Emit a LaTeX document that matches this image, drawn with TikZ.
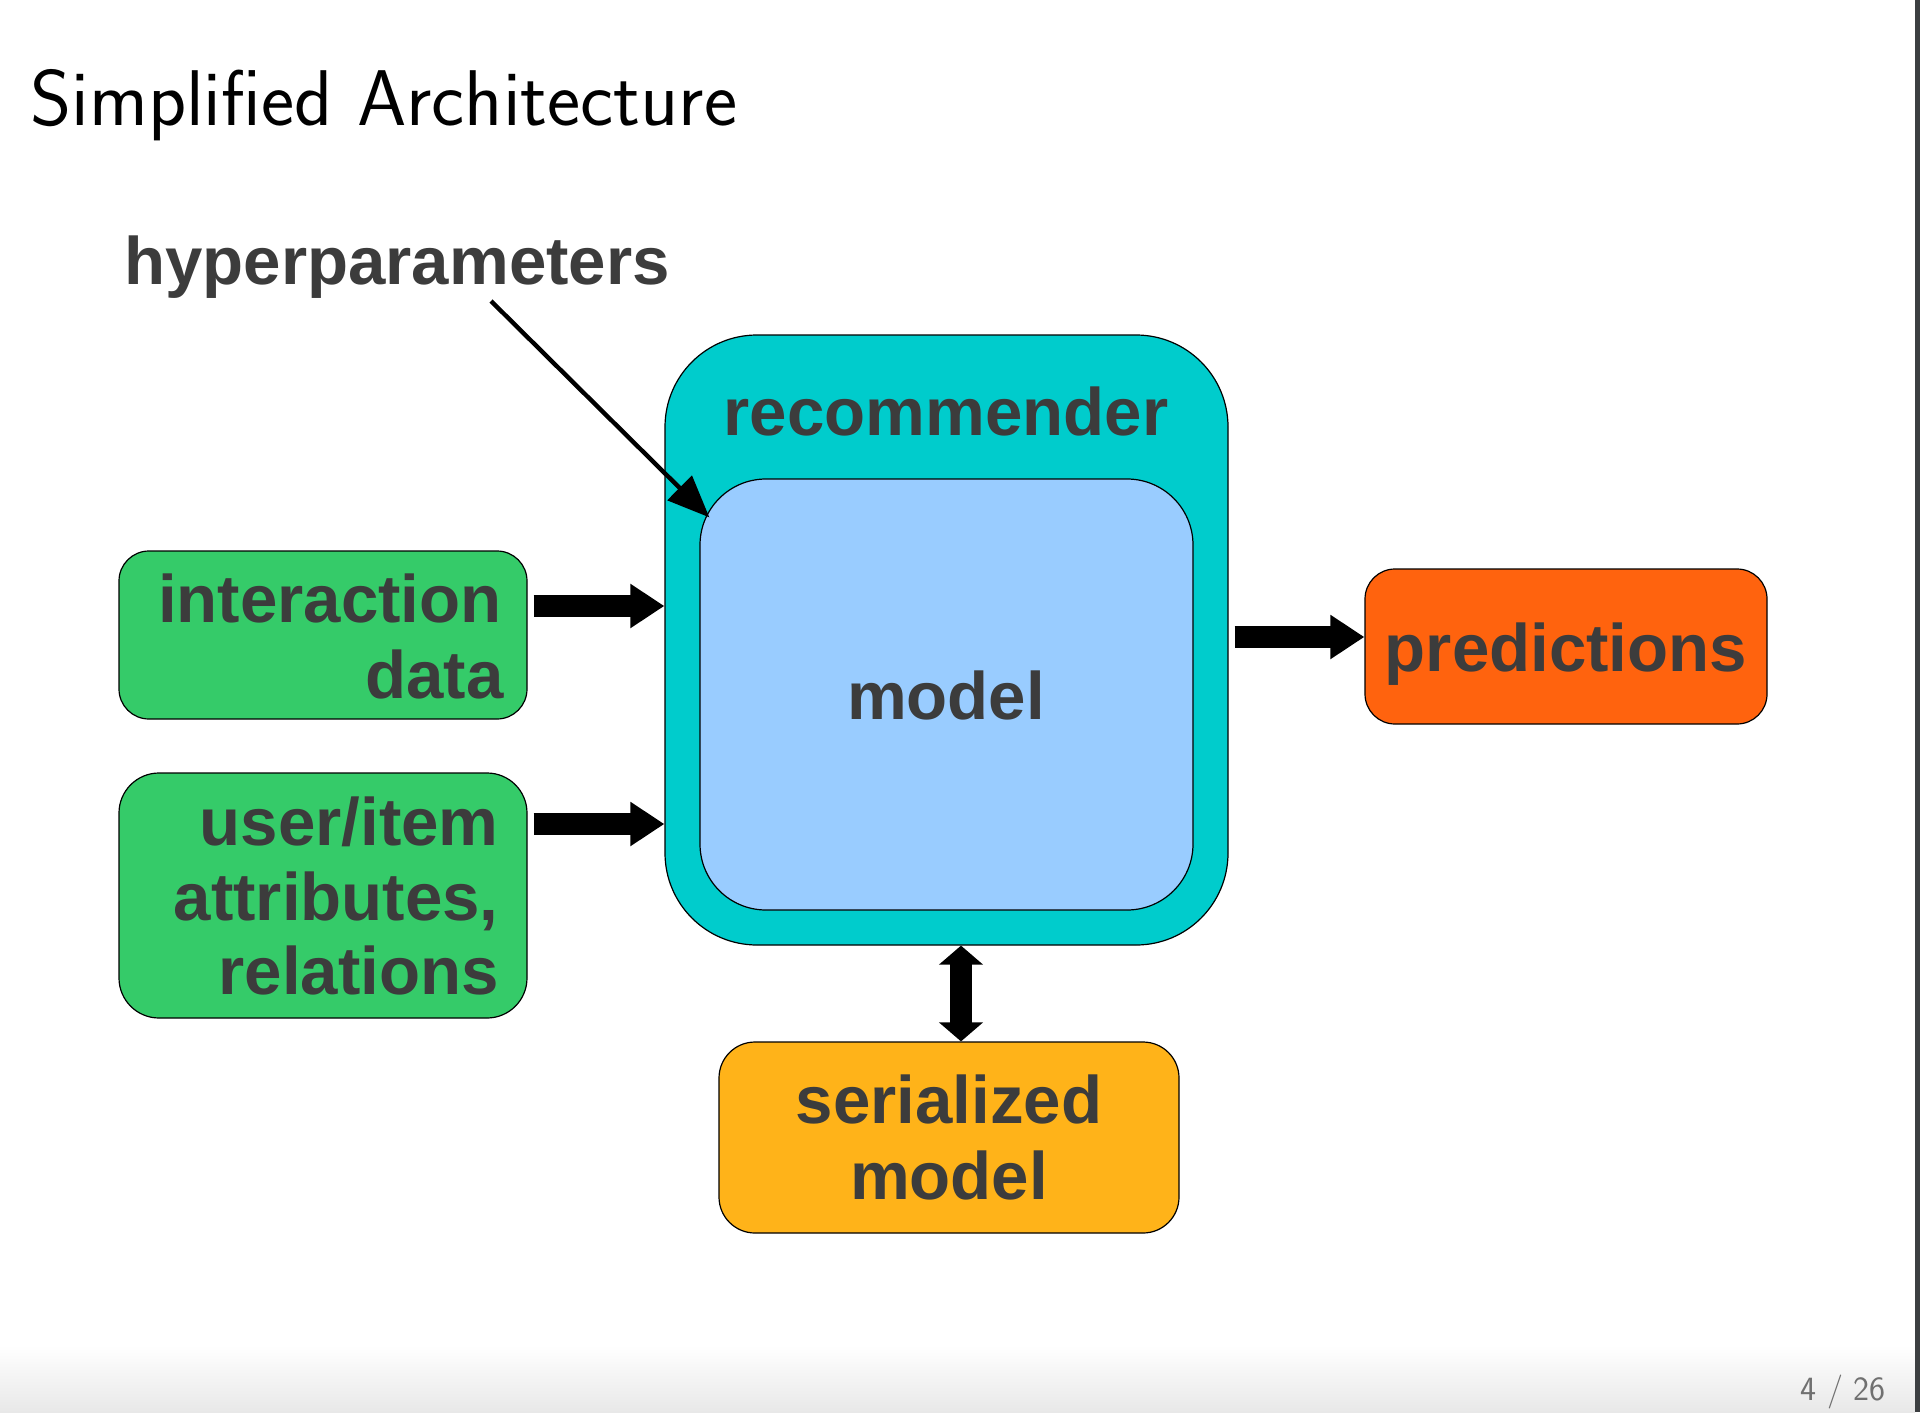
\documentclass[tikz,border=0pt]{standalone}
\usepackage{fontspec}
\setmainfont{Liberation Sans}
\usetikzlibrary{arrows.meta,calc}
\definecolor{txtc}{HTML}{3C3C3C}
\definecolor{cgreen}{HTML}{35CB69}
\definecolor{cteal}{HTML}{00CCCC}
\definecolor{cblue}{HTML}{99CCFF}
\definecolor{corange}{HTML}{FF630E}
\definecolor{cyellow}{HTML}{FFB319}
\definecolor{stripc}{HTML}{3C3F41}
\definecolor{pagec}{HTML}{707070}
\begin{document}
\begin{tikzpicture}[x=0.5pt,y=-0.5pt,
  box/.style={draw=black, line width=0.6pt, rectangle, inner sep=0pt},
  lbl/.style={inner sep=0pt, text=txtc, font=\fontsize{33.6pt}{40pt}\selectfont\bfseries},
  blk/.style={line width=11pt, line cap=butt, -{Triangle[length=17pt,width=21pt]}},
  dbl/.style={line width=11pt, line cap=butt, {Triangle[length=9.5pt,width=21.5pt]}-{Triangle[length=9.5pt,width=21.5pt]}},
  thin/.style={line width=2.2pt, -{Triangle[length=21pt,width=17pt]}}]
% page
\fill[white] (0,0) rectangle (1920,1412);
\shade[top color=white, bottom color=black!9] (0,1345) rectangle (1915,1412);
\fill[stripc] (1915,0) rectangle (1920,1412);
% title
\node[anchor=base west, inner sep=0pt, font=\sffamily\fontsize{39.5pt}{45pt}\selectfont] (title) at (30,126) {Simplified Architecture};
% page number
\node[anchor=base east, inner sep=0pt, text=pagec, font=\sffamily\fontsize{17pt}{20pt}\selectfont] (page) at (1886,1400) {4 / 26};
% boxes
\node[box, fill=cteal, rounded corners=46pt, minimum width=281.5pt, minimum height=305pt] (rec) at (946.5,640) {};
\node[box, fill=cblue, rounded corners=33pt, minimum width=246.5pt, minimum height=215.5pt] (model) at (946.5,694.5) {};
\node[box, fill=cgreen, rounded corners=15pt, minimum width=204pt, minimum height=84pt] (inter) at (323,635) {};
\node[box, fill=cgreen, rounded corners=20pt, minimum width=204pt, minimum height=122.5pt] (attr) at (323,895.5) {};
\node[box, fill=corange, rounded corners=15pt, minimum width=201pt, minimum height=77.5pt] (pred) at (1566,646.5) {};
\node[box, fill=cyellow, rounded corners=18pt, minimum width=230pt, minimum height=95.5pt] (ser) at (949,1137.5) {};
% labels
\node[lbl, anchor=base west] (hyper) at (124,284) {hyperparameters};
\node[lbl, anchor=base] (rectxt) at (946,435) {recommender};
\node[lbl, anchor=base] (modeltxt) at (946,719) {model};
\node[lbl, anchor=base east] (intera) at (502,622) {interaction};
\node[lbl, anchor=base east] (interb) at (504,698) {data};
\node[lbl, anchor=base east] (attra) at (499,845) {user/item};
\node[lbl, anchor=base east] (attrb) at (499,920) {attributes,};
\node[lbl, anchor=base east] (attrc) at (499,994) {relations};
\node[lbl, anchor=base] (predtxt) at (1566,671) {predictions};
\node[lbl, anchor=base] (sera) at (949,1123) {serialized};
\node[lbl, anchor=base] (serb) at (949,1199) {model};
% connectors
\draw[blk] ($(inter.east)+(6,-29)$) coordinate (a1) -- (a1 -| rec.west);
\draw[blk] ($(attr.east)+(6,-71.5)$) coordinate (a2) -- (a2 -| rec.west);
\draw[blk] ($(rec.east)+(6,-3)$) coordinate (a3) -- (a3 -| pred.west);
\draw[dbl] ($(rec.south)+(14.5,0)$) coordinate (a4) -- (a4 |- ser.north);
\coordinate (hs) at ($(hyper.base west)+(367,17)$);
\coordinate (ht) at ($(model.north west)+(10,39)$);
\draw[thin] (hs) -- (ht);
\end{tikzpicture}
\end{document}
